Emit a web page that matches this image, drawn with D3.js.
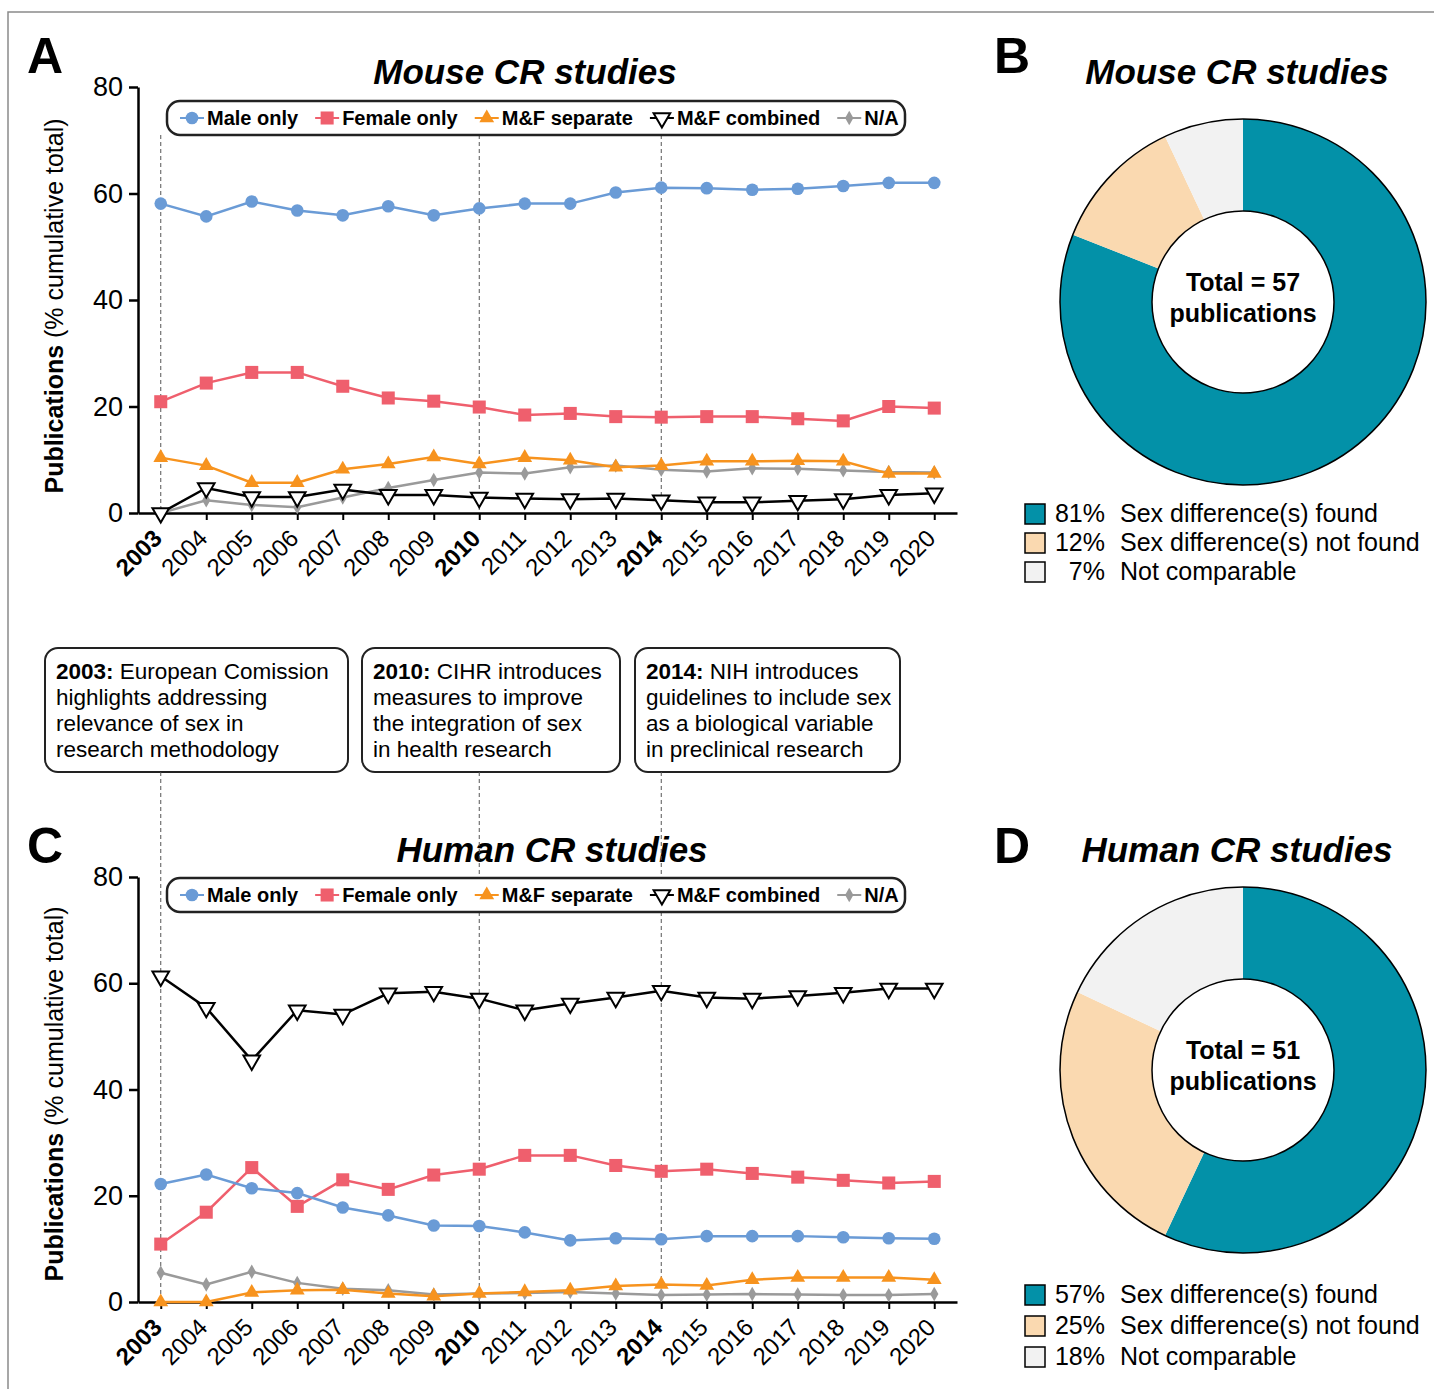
<!DOCTYPE html>
<html>
<head>
<meta charset="utf-8">
<script src="https://cdn.jsdelivr.net/npm/d3@7"></script>
<style>
  body { margin: 0; background: #fff; }
  svg text { font-family: "Liberation Sans", Arial, Helvetica, sans-serif; fill: #000; }
</style>
</head>
<body>
<svg id="svg"></svg>
<script>
// years on the x axis, the three milestone years are drawn bold
var years          = [2003, 2004, 2005, 2006, 2007, 2008, 2009, 2010, 2011, 2012, 2013, 2014, 2015, 2016, 2017, 2018, 2019, 2020];
var milestoneYears = [2003, 2010, 2014];
var seriesNames    = ["Male only", "Female only", "M&F separate", "M&F combined", "N/A"];
var yTicks         = [0, 20, 40, 60, 80];

// % cumulative total, mouse
var mouseMale     = [58.1, 55.7, 58.5, 56.8, 55.9, 57.6, 55.9, 57.2, 58.1, 58.1, 60.2, 61.1, 61.0, 60.7, 60.9, 61.4, 62.0, 62.0];
var mouseFemale   = [20.9, 24.4, 26.4, 26.4, 23.8, 21.6, 21.0, 19.9, 18.4, 18.7, 18.1, 18.0, 18.1, 18.1, 17.7, 17.3, 20.0, 19.7];
var mouseSeparate = [10.4, 8.9, 5.7, 5.7, 8.2, 9.2, 10.5, 9.2, 10.4, 9.9, 8.6, 8.9, 9.7, 9.7, 9.8, 9.7, 7.4, 7.4];
var mouseCombined = [0.0, 4.7, 3.0, 3.0, 4.4, 3.4, 3.4, 2.9, 2.7, 2.6, 2.7, 2.4, 2.0, 2.0, 2.3, 2.6, 3.4, 3.7];
var mouseNA       = [0.0, 2.4, 1.5, 1.1, 2.9, 4.7, 6.2, 7.6, 7.4, 8.6, 8.9, 8.1, 7.8, 8.4, 8.3, 8.0, 7.7, 7.6];

// % cumulative total, human
var humanMale     = [22.2, 24.0, 21.4, 20.5, 17.8, 16.3, 14.4, 14.3, 13.1, 11.6, 12.0, 11.8, 12.4, 12.4, 12.4, 12.2, 12.0, 11.9];
var humanFemale   = [10.9, 16.9, 25.3, 18.0, 23.0, 21.2, 23.9, 25.0, 27.6, 27.6, 25.7, 24.6, 25.0, 24.2, 23.5, 22.9, 22.4, 22.7];
var humanSeparate = [0.0, 0.0, 1.8, 2.2, 2.3, 1.6, 1.1, 1.6, 1.9, 2.2, 3.0, 3.3, 3.1, 4.2, 4.6, 4.6, 4.6, 4.2];
var humanCombined = [61.3, 55.4, 45.5, 54.9, 54.1, 58.1, 58.4, 57.1, 54.9, 56.2, 57.3, 58.6, 57.3, 57.1, 57.6, 58.2, 59.0, 59.0];
var humanNA       = [5.5, 3.3, 5.7, 3.6, 2.5, 2.2, 1.4, 1.6, 1.7, 1.9, 1.6, 1.3, 1.4, 1.5, 1.4, 1.3, 1.3, 1.5];

// donut charts
var pieLabels  = ["Sex difference(s) found", "Sex difference(s) not found", "Not comparable"];
var mousePie   = [81, 12, 7];
var humanPie   = [57, 25, 18];
var mouseTotal = 57;
var humanTotal = 51;

// policy milestones between the panels
var notes = [
	{year: "2003:", lines: [" European Comission", "highlights addressing", "relevance of sex in", "research methodology"]},
	{year: "2010:", lines: [" CIHR introduces", "measures to improve", "the integration of sex", "in health research"]},
	{year: "2014:", lines: [" NIH introduces", "guidelines to include sex", "as a biological variable", "in preclinical research"]}
];


var colors   = ["#6a9bd6", "#ef5f6d", "#f7931e", "#000000", "#9a9a9a"];
var symbols  = [d3.symbolCircle, d3.symbolSquare, d3.symbolTriangle, d3.symbolTriangle, d3.symbolDiamond];
var symSizes = [125, 170, 95, 120, 60];
var pieCols  = ["#0391a8", "#fad9b0", "#f2f2f2"];

var svg = d3.select("#svg")
	.attr("width", 1434)
	.attr("height", 1389);

// outer frame
svg.append("rect")
	.attr("x", 8).attr("y", 12)
	.attr("width", 1450).attr("height", 1400)
	.attr("fill", "none")
	.attr("stroke", "#8a8a8a")
	.attr("stroke-width", 1.5);

var x = d3.scalePoint()
	.domain(years)
	.range([138, 957])
	.padding(0.5);

function marker(sel, i) {
	sel.attr("d", d3.symbol().type(symbols[i]).size(symSizes[i]))
		.attr("fill", i == 3 ? "#fff" : colors[i])
		.attr("stroke", i == 3 ? "#000" : "none")
		.attr("stroke-width", i == 3 ? 2 : 0);
}

function linePanel(p) {
	var g = svg.append("g");
	var y = d3.scaleLinear().domain([0, 80]).range([p.bottom, p.top]);

	// panel letter and title
	g.append("text").attr("x", 27).attr("y", p.letterY)
		.style("font-size", "50px").style("font-weight", "bold").text(p.letter);
	g.append("text").attr("x", p.titleX).attr("y", p.titleY)
		.attr("text-anchor", "middle")
		.style("font-size", "35px").style("font-weight", "bold").style("font-style", "italic")
		.text(p.title);

	// dashed guide lines for the milestone years
	g.selectAll(".guide")
		.data(milestoneYears)
		.enter()
		.append("line")
		.attr("x1", function(d) { return x(d); })
		.attr("x2", function(d) { return x(d); })
		.attr("y1", p.dashTop)
		.attr("y2", p.bottom)
		.attr("stroke", "#555")
		.attr("stroke-width", 1)
		.attr("stroke-dasharray", "4,3");

	// axes
	var ya = g.append("g")
		.attr("transform", "translate(138,0)")
		.call(d3.axisLeft(y).tickValues(yTicks).tickSize(9).tickSizeOuter(0).tickPadding(6));
	ya.select(".domain").attr("stroke-width", 2.5);
	ya.selectAll(".tick line").attr("stroke-width", 2.5);
	ya.selectAll(".tick text").style("font-size", "27px").style("font-family", "'Liberation Sans', Arial, sans-serif");

	var xa = g.append("g")
		.attr("transform", "translate(0," + p.bottom + ")")
		.call(d3.axisBottom(x).tickSize(7).tickSizeOuter(0));
	xa.select(".domain").attr("stroke-width", 2.5);
	xa.selectAll(".tick line").attr("stroke-width", 2);
	xa.selectAll(".tick text").remove();

	g.selectAll(".xlab")
		.data(years)
		.enter()
		.append("text")
		.attr("transform", function(d) { return "translate(" + (x(d) - 10) + "," + (p.bottom + 14) + ") rotate(-45)"; })
		.attr("text-anchor", "end")
		.attr("dy", "0.75em")
		.style("font-size", "24px")
		.style("font-weight", function(d) { return milestoneYears.indexOf(d) >= 0 ? "bold" : "normal"; })
		.text(function(d) { return d; });

	// y label
	var yl = g.append("text")
		.attr("transform", "translate(63," + p.labelY + ") rotate(-90)")
		.attr("text-anchor", "middle")
		.style("font-size", "25px");
	yl.append("tspan").style("font-weight", "bold").text("Publications");
	yl.append("tspan").text(" (% cumulative total)");

	// series, last legend entry drawn first
	var line = d3.line()
		.x(function(d, i) { return x(years[i]); })
		.y(function(d) { return y(d); });

	for (var k = p.series.length - 1; k >= 0; k--) {
		g.append("path")
			.datum(p.series[k])
			.attr("d", line)
			.attr("fill", "none")
			.attr("stroke", colors[k])
			.attr("stroke-width", 2.5);
		g.selectAll(".m" + k)
			.data(p.series[k])
			.enter()
			.append("path")
			.attr("class", "m" + k)
			.attr("transform", function(d, i) {
				return "translate(" + x(years[i]) + "," + y(d) + ")" + (k == 3 ? " rotate(180)" : "");
			})
			.call(marker, k);
	}

	// legend
	var lg = g.append("g");
	lg.append("rect")
		.attr("x", 167).attr("y", p.legendY)
		.attr("width", 738).attr("height", 34)
		.attr("rx", 13)
		.attr("fill", "#fff")
		.attr("stroke", "#222")
		.attr("stroke-width", 2.5);
	var lx = 180,
	    ly = p.legendY + 17;
	for (var k = 0; k < seriesNames.length; k++) {
		lg.append("line")
			.attr("x1", lx).attr("x2", lx + 24)
			.attr("y1", ly).attr("y2", ly)
			.attr("stroke", colors[k]).attr("stroke-width", 2);
		lg.append("path")
			.attr("transform", "translate(" + (lx + 12) + "," + ly + ")" + (k == 3 ? " rotate(180)" : ""))
			.call(marker, k);
		var t = lg.append("text")
			.attr("x", lx + 27).attr("y", ly + 7)
			.style("font-size", "20px").style("font-weight", "bold")
			.text(seriesNames[k]);
		lx = lx + 27 + t.node().getComputedTextLength() + 17;
	}
}

function donut(p) {
	var g = svg.append("g");
	g.append("text").attr("x", 994).attr("y", p.letterY)
		.style("font-size", "50px").style("font-weight", "bold").text(p.letter);
	g.append("text").attr("x", 1237).attr("y", p.titleY)
		.attr("text-anchor", "middle")
		.style("font-size", "35px").style("font-weight", "bold").style("font-style", "italic")
		.text(p.title);

	var c = g.append("g").attr("transform", "translate(1243," + p.cy + ")");
	var arcs = d3.pie().sort(null).value(function(d) { return d; })(p.values);
	var arc = d3.arc().innerRadius(91).outerRadius(183);
	c.selectAll(".slice")
		.data(arcs)
		.enter()
		.append("path")
		.attr("d", arc)
		.attr("fill", function(d, i) { return pieCols[i]; });
	c.append("circle").attr("r", 183).attr("fill", "none").attr("stroke", "#000").attr("stroke-width", 1.5);
	c.append("circle").attr("r", 91).attr("fill", "#fff").attr("stroke", "#000").attr("stroke-width", 1.5);
	c.append("text").attr("y", -11).attr("text-anchor", "middle")
		.style("font-size", "25px").style("font-weight", "bold")
		.text("Total = " + p.total);
	c.append("text").attr("y", 20).attr("text-anchor", "middle")
		.style("font-size", "25px").style("font-weight", "bold")
		.text("publications");

	var lg = g.selectAll(".pl")
		.data(p.values)
		.enter()
		.append("g")
		.attr("transform", function(d, i) { return "translate(0," + (p.legendY + i * p.legendStep) + ")"; });
	lg.append("rect")
		.attr("x", 1025).attr("y", -18)
		.attr("width", 20).attr("height", 20)
		.attr("fill", function(d, i) { return pieCols[i]; })
		.attr("stroke", "#000").attr("stroke-width", 1.5);
	lg.append("text").attr("x", 1105).attr("text-anchor", "end")
		.style("font-size", "25px")
		.text(function(d) { return d + "%"; });
	lg.append("text").attr("x", 1120)
		.style("font-size", "25px")
		.text(function(d, i) { return pieLabels[i]; });
}

linePanel({letter: "A", letterY: 73, title: "Mouse CR studies", titleX: 525, titleY: 84,
	   top: 87, bottom: 513, legendY: 101, dashTop: 135, labelY: 306,
	   series: [mouseMale, mouseFemale, mouseSeparate, mouseCombined, mouseNA]});

// milestone boxes
var boxX = [45, 362, 635],
    boxW = [303, 258, 265];
for (var i = 0; i < notes.length; i++) {
	var ng = svg.append("g").attr("transform", "translate(" + boxX[i] + ",648)");
	ng.append("rect")
		.attr("width", boxW[i]).attr("height", 124)
		.attr("rx", 13)
		.attr("fill", "#fff")
		.attr("stroke", "#222")
		.attr("stroke-width", 2);
	var nt = ng.append("text").attr("x", 11).attr("y", 31).style("font-size", "22.5px");
	nt.append("tspan").style("font-weight", "bold").text(notes[i].year);
	nt.append("tspan").text(notes[i].lines[0]);
	for (var j = 1; j < notes[i].lines.length; j++) {
		ng.append("text").attr("x", 11).attr("y", 31 + j * 26)
			.style("font-size", "22.5px")
			.text(notes[i].lines[j]);
	}
}

linePanel({letter: "C", letterY: 863, title: "Human CR studies", titleX: 552, titleY: 862,
	   top: 877, bottom: 1302, legendY: 878, dashTop: 772, labelY: 1094,
	   series: [humanMale, humanFemale, humanSeparate, humanCombined, humanNA]});

donut({letter: "B", letterY: 73, title: "Mouse CR studies", titleY: 84, cy: 302,
       values: mousePie, total: mouseTotal, legendY: 522, legendStep: 29});
donut({letter: "D", letterY: 863, title: "Human CR studies", titleY: 862, cy: 1070,
       values: humanPie, total: humanTotal, legendY: 1303, legendStep: 31});
</script>
</body>
</html>
